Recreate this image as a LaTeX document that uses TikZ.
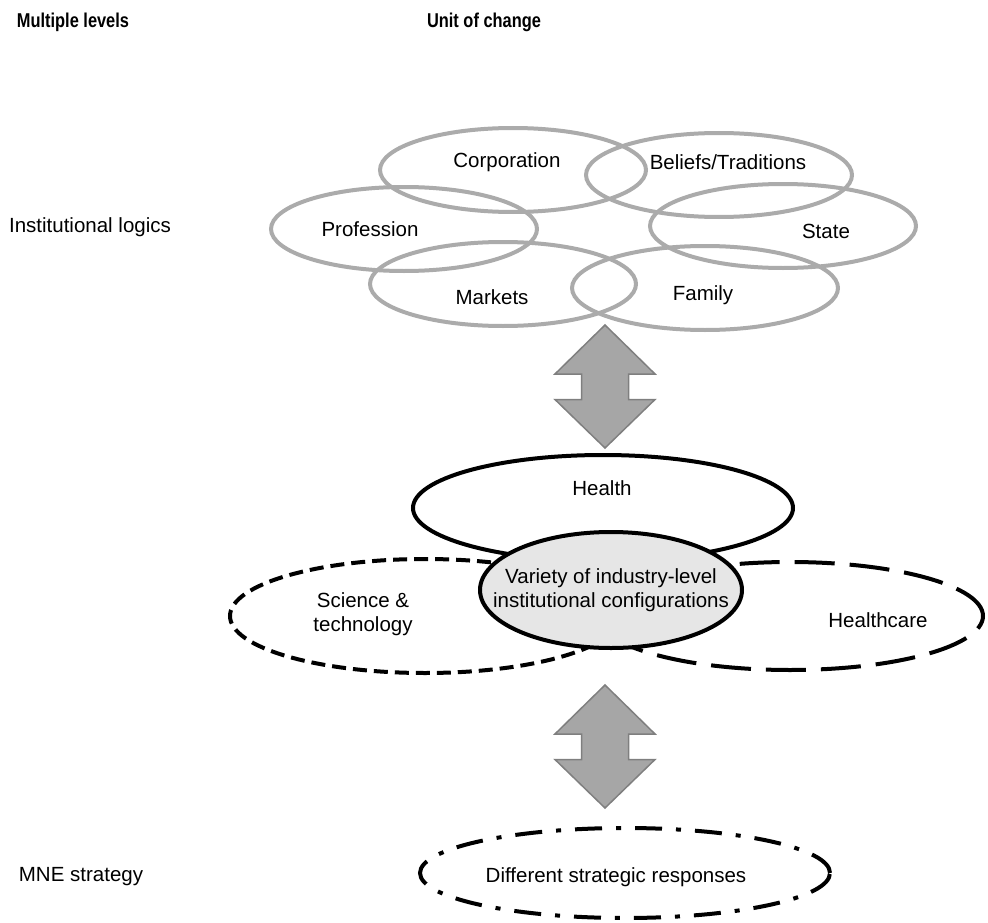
\documentclass[tikz,border=0pt]{standalone}
\usepackage{fontspec}
\setmainfont{Liberation Sans}
\newfontfamily\headfont[FakeStretch=0.82]{Liberation Sans}
\usetikzlibrary{shapes.geometric}

\tikzset{
  txt/.style={inner sep=0pt, font=\fontsize{20.5}{24}\selectfont},
  head/.style={inner sep=0pt, font=\headfont\bfseries\fontsize{20}{24}\selectfont},
  logic/.style={ellipse, draw=logicgray, line width=4pt, inner sep=0pt,
    minimum width=266pt, minimum height=84pt},
  blackoval/.style={ellipse, draw=black, line width=4pt, inner sep=0pt},
  pics/updown/.style={code={
    \draw[fill=arrowfill, draw=arrowedge, line width=1.5pt, line join=miter]
      (0,-61.5) -- (50,-12.5) -- (23.5,-12.5) -- (23.5,13) -- (50,13)
      -- (0,61.5) -- (-50,13) -- (-23.5,13) -- (-23.5,-12.5) -- (-50,-12.5) -- cycle;
  }}
}
\definecolor{logicgray}{HTML}{ABABAB}
\definecolor{arrowfill}{HTML}{A6A6A6}
\definecolor{arrowedge}{HTML}{7F7F7F}
\definecolor{coreFill}{HTML}{E6E6E6}

\begin{document}
\begin{tikzpicture}[x=1pt,y=-1pt]
  \useasboundingbox (0,0) rectangle (988,923);

  % column headings
  \node[head] (hlevels) at (73,22) {Multiple levels};
  \node[head] (hunit) at (484,22) {Unit of change};

  % level labels
  \node[txt] (lvlogics) at (90,227) {Institutional logics};
  \node[txt] (lvmne) at (81,877) {MNE strategy};

  % institutional logics
  \node[logic] (corp) at (513,170) {};
  \node[logic] (beliefs) at (719,175) {};
  \node[logic] (prof) at (404,229) {};
  \node[logic] (state) at (783,226) {};
  \node[logic] (markets) at (503,284) {};
  \node[logic] (family) at (705,288) {};
  \node[txt] at (507,162) {Corporation};
  \node[txt] at (728,162) {Beliefs/Traditions};
  \node[txt] at (370,229) {Profession};
  \node[txt] at (826,231) {State};
  \node[txt] at (492,297) {Markets};
  \node[txt] at (703,295) {Family};

  % arrow between logics and industry level
  \pic (arrowtop) at (605,386.5) {updown};

  % industry-level fields
  \node[blackoval, dash pattern=on 14pt off 7pt, minimum width=390pt, minimum height=114pt]
    (science) at (425,616) {};
  \node[blackoval, dash pattern=on 40pt off 15pt, minimum width=386pt, minimum height=108pt]
    (healthcare) at (790,616) {};
  \node[blackoval, minimum width=380pt, minimum height=106pt] (health) at (603,508) {};
  \node[blackoval, fill=coreFill, minimum width=262pt, minimum height=116pt]
    (variety) at (611,590) {};

  \node[txt] at (602,488) {Health};
  \node[txt, align=center] at (363,614) {Science \&\\technology};
  \node[txt] at (878,620) {Healthcare};
  \node[txt, align=center] at (611,590) {Variety of industry-level\\institutional configurations};

  % arrow between industry level and strategy
  \pic (arrowbottom) at (605,746.5) {updown};

  % strategic responses
  \node[blackoval, dash pattern=on 27pt off 14pt on 5pt off 14pt,
    minimum width=410pt, minimum height=90pt] (responses) at (625,873) {};
  \node[txt] at (616,877) {Different strategic responses};
\end{tikzpicture}
\end{document}
